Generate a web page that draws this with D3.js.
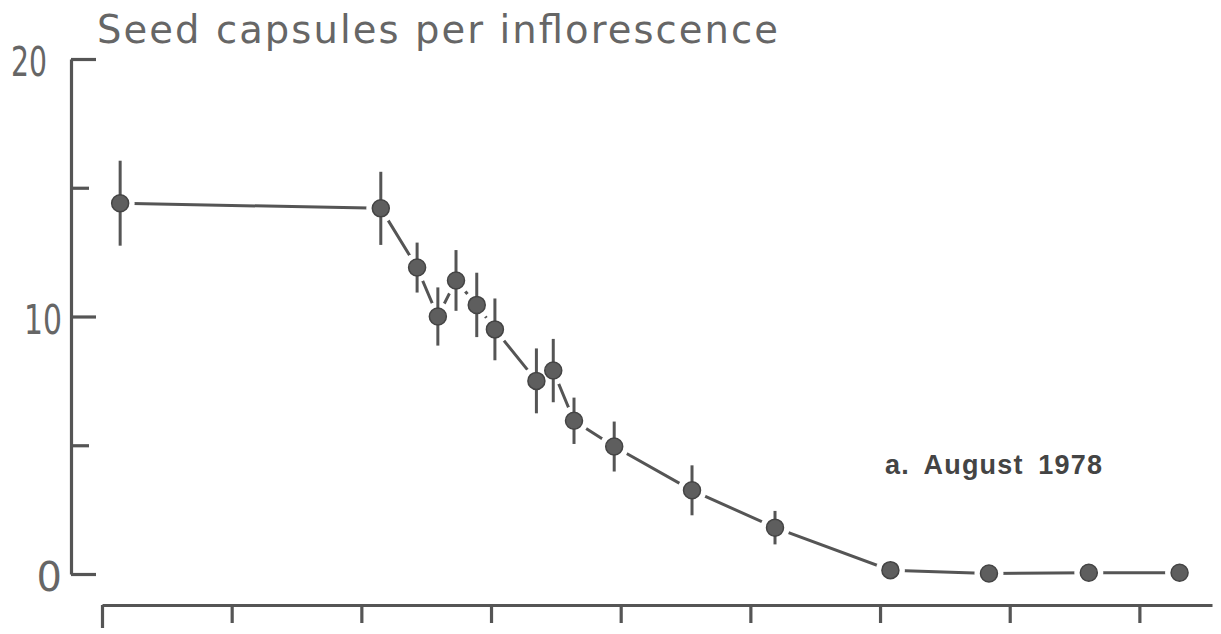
<!DOCTYPE html>
<html>
<head>
<meta charset="utf-8">
<script src="https://cdn.jsdelivr.net/npm/d3@7"></script>
<style>
  html, body { margin: 0; padding: 0; background: #ffffff; }
  svg { display: block; }
</style>
</head>
<body>
<svg id="chart" width="1221" height="634"></svg>
<script>
// ---- data ----
const titleText = "Seed capsules per inflorescence";
const panelLabel = "a. August 1978";
const xTicks = [0, 10, 20, 30, 40, 50, 60, 70, 80];
const yTicks = [0, 5, 10, 15, 20];
const yTickLabels = ["0", "", "10", "", "20"];
const days = [1.4, 21.5, 24.3, 25.9, 27.3, 28.9, 30.3, 33.5, 34.8, 36.4, 39.5, 45.5, 51.9, 60.8, 68.4, 76.1, 83.1];
const capsules = [14.4, 14.2, 11.9, 10.0, 11.4, 10.45, 9.5, 7.5, 7.9, 5.95, 4.95, 3.25, 1.8, 0.15, 0.02, 0.05, 0.05];
const stdErr = [1.65, 1.42, 0.97, 1.13, 1.18, 1.25, 1.2, 1.26, 1.23, 0.9, 0.97, 0.97, 0.65, 0, 0, 0, 0];

const points = days.map((d, i) => ({ x: d, y: capsules[i], e: stdErr[i] }));

const ink = "#555555";
const svg = d3.select("#chart");

const x = d3.scaleLinear().domain([0, 85.6]).range([102, 1212]);
const y = d3.scaleLinear().domain([0, 20]).range([574, 59]);

// ---- title ----
svg.append("text")
  .attr("x", 97).attr("y", 43)
  .attr("font-family", "DejaVu Sans")
  .attr("font-size", 38.5)
  .attr("fill", "#666")
  .attr("textLength", 681)
  .attr("lengthAdjust", "spacing")
  .text(titleText);

// ---- y axis ----
const yAxis = d3.axisLeft(y)
  .tickValues(yTicks)
  .tickSizeInner(-20)
  .tickSizeOuter(0)
  .tickPadding(9)
  .tickFormat((d, i) => yTickLabels[i]);

const gy = svg.append("g").attr("transform", "translate(71,0)").call(yAxis);
gy.select(".domain").attr("stroke", ink).attr("stroke-width", 3.2);
gy.selectAll(".tick line")
  .attr("stroke", ink).attr("stroke-width", 3.2)
  .attr("x2", (d, i) => (yTickLabels[i] ? 25 : 18));
gy.selectAll(".tick text")
  .attr("font-family", "DejaVu Sans")
  .attr("font-size", 40)
  .attr("fill", "#666")
  .attr("dy", "0.42em")
  .attr("dx", d => (d === 20 ? -15 : 0))
  .each(function (d, i) {
    const t = yTickLabels[i];
    if (t.length > 1) {
      d3.select(this).attr("textLength", d === 20 ? 36 : 38).attr("lengthAdjust", "spacingAndGlyphs");
    }
  });

// ---- x axis ----
const xAxis = d3.axisBottom(x)
  .tickValues(xTicks)
  .tickSizeInner(19)
  .tickSizeOuter(0)
  .tickFormat("");

const gx = svg.append("g").attr("transform", "translate(0,605)").call(xAxis);
gx.select(".domain").attr("stroke", ink).attr("stroke-width", 3.2);
gx.selectAll(".tick line")
  .attr("stroke", ink).attr("stroke-width", 3.2)
  .attr("y2", (d, i) => (i === 0 ? 23 : 18));

// ---- connecting line ----
const line = d3.line().x(d => x(d.x)).y(d => y(d.y));
svg.append("path")
  .datum(points)
  .attr("d", line)
  .attr("fill", "none")
  .attr("stroke", ink)
  .attr("stroke-width", 3);

// halo gaps around markers
svg.append("g").selectAll("circle")
  .data(points).join("circle")
  .attr("cx", d => x(d.x)).attr("cy", d => y(d.y))
  .attr("r", 9)
  .attr("fill", "#fff")
  .attr("stroke", "#fff")
  .attr("stroke-width", 11);

// error bars
svg.append("g").selectAll("line")
  .data(points.filter(d => d.e > 0)).join("line")
  .attr("x1", d => x(d.x)).attr("x2", d => x(d.x))
  .attr("y1", d => y(d.y + d.e)).attr("y2", d => y(d.y - d.e))
  .attr("stroke", ink)
  .attr("stroke-width", 3);

// markers
svg.append("g").selectAll("circle")
  .data(points).join("circle")
  .attr("cx", d => x(d.x)).attr("cy", d => y(d.y))
  .attr("r", 8.5)
  .attr("fill", "#5e5e5e")
  .attr("stroke", "#444")
  .attr("stroke-width", 1.5);

// ---- panel label ----
svg.append("text")
  .attr("x", 885).attr("y", 474)
  .attr("font-family", "Liberation Sans, Arial, sans-serif")
  .attr("font-weight", "bold")
  .attr("font-size", 27)
  .attr("fill", "#444")
  .attr("textLength", 217)
  .attr("lengthAdjust", "spacing")
  .attr("word-spacing", 6)
  .text(panelLabel);
</script>
</body>
</html>
